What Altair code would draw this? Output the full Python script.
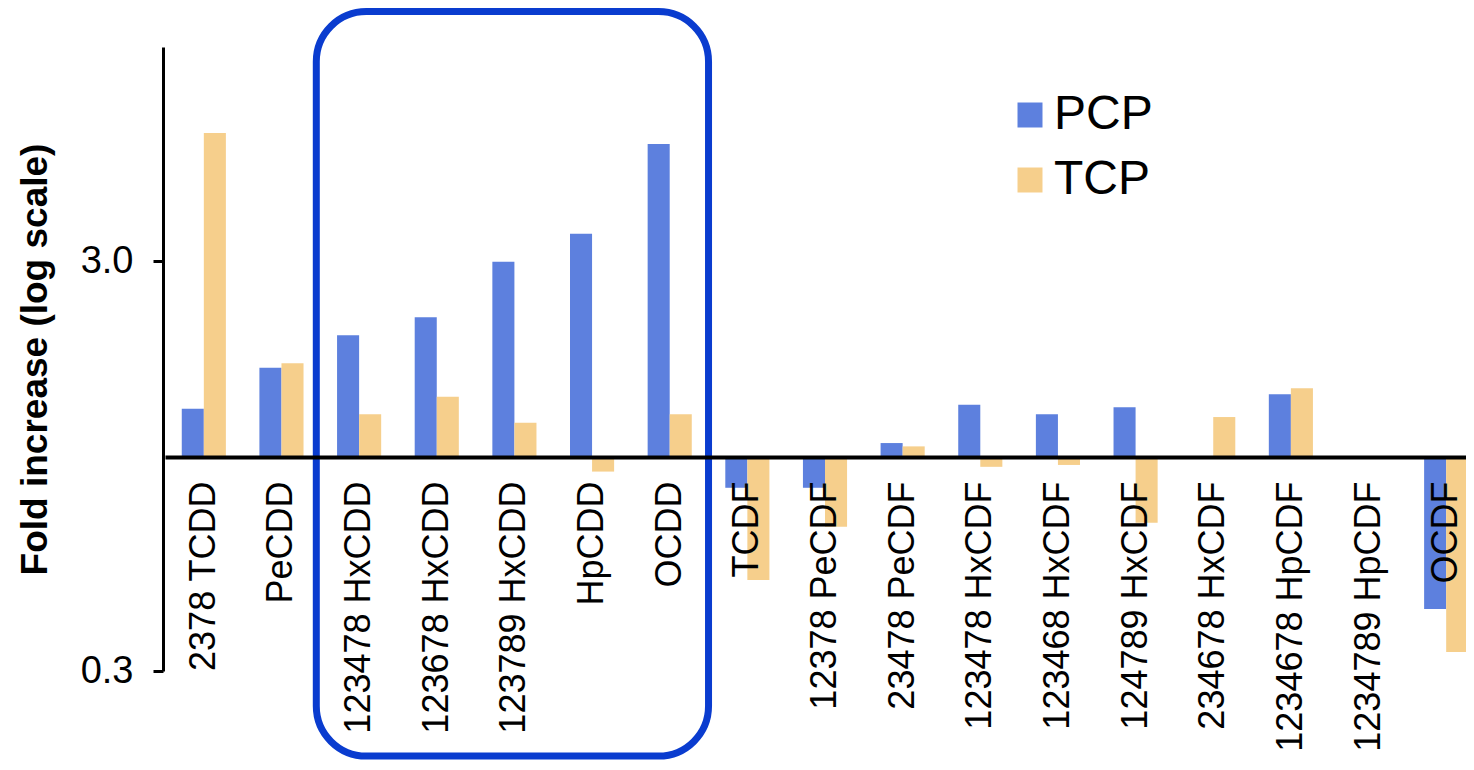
import altair as alt
import pandas as pd

categories = ["2378 TCDD", "PeCDD", "123478 HxCDD", "123678 HxCDD", "123789 HxCDD",
              "HpCDD", "OCDD", "TCDF", "12378 PeCDF", "23478 PeCDF", "123478 HxCDF",
              "123468 HxCDF", "124789 HxCDF", "234678 HxCDF", "1234678 HpCDF",
              "1234789 HpCDF", "OCDF"]
pcp = [1.31, 1.65, 1.98, 2.19, 2.99, 3.50, 5.80, 0.84, 0.84, 1.08, 1.34, 1.27, 1.32,
       1.0, 1.42, 1.0, 0.425]
tcp = [6.17, 1.69, 1.27, 1.40, 1.21, 0.92, 1.27, 0.50, 0.675, 1.06, 0.945, 0.955, 0.69,
       1.25, 1.47, 1.0, 0.334]
series = ["PCP", "TCP"]
colors = ["#5D80DE", "#F6CF8C"]
y_ticks = [0.3, 3.0]
y_domain = [0.3, 10]
baseline_value = 1.0
highlight_start = ["123478 HxCDD"]
highlight_end = ["OCDD"]
highlight_top = [12.2]
highlight_bottom = [0.186]

FONT = "Liberation Sans"

rows = []
for c, p, t in zip(categories, pcp, tcp):
    rows.append({"compound": c, "series": "PCP", "value": p})
    rows.append({"compound": c, "series": "TCP", "value": t})
df = pd.DataFrame(rows)

box_df = pd.DataFrame({"start": highlight_start, "end": highlight_end,
                       "top": highlight_top, "bottom": highlight_bottom})

x_scale = alt.Scale(domain=categories, range=[2, 1322], paddingInner=0, paddingOuter=0)
y_scale = alt.Scale(type="log", domain=y_domain)

bars = alt.Chart(df).mark_bar().encode(
    x=alt.X("compound:N", scale=x_scale,
            axis=alt.Axis(title=None, orient="bottom", offset=-214, labelAngle=-90,
                          labelAlign="right", labelBaseline="middle", labelPadding=24,
                          ticks=False, domainColor="black", domainWidth=4,
                          labelFontSize=36, labelFont=FONT, labelColor="black",
                          labelOverlap=False, labelLimit=0, zindex=1)),
    xOffset=alt.XOffset("series:N", scale=alt.Scale(domain=series, paddingInner=0,
                                                     paddingOuter=0.76)),
    y=alt.Y("value:Q", scale=y_scale,
            axis=alt.Axis(values=y_ticks, format=".1f", title="Fold increase (log scale)",
                          titleFontSize=37, titleFontWeight="bold", titleFont=FONT,
                          titleColor="black", titlePadding=26, labelFontSize=38,
                          labelFont=FONT, labelColor="black", tickSize=10, tickWidth=3,
                          tickColor="black", domainWidth=3, domainColor="black",
                          labelPadding=20, grid=False, zindex=1)),
    y2=alt.datum(baseline_value),
    color=alt.Color("series:N", scale=alt.Scale(domain=series, range=colors),
                    legend=alt.Legend(title=None, orient="none", legendX=843, legendY=44,
                                      symbolType="square", symbolSize=625,
                                      labelFontSize=48, labelFont=FONT, labelColor="black",
                                      rowPadding=17, labelOffset=0, padding=0,
                                      symbolStrokeWidth=0)),
)

box = alt.Chart(box_df).mark_rect(fill=None, stroke="#0A3CCF", strokeWidth=7,
                                  cornerRadius=50, xOffset=-4).encode(
    x=alt.X("start:N", bandPosition=0, scale=x_scale),
    x2=alt.X2("end", bandPosition=1),
    y=alt.Y("top:Q", scale=y_scale),
    y2=alt.Y2("bottom"),
)

chart = alt.layer(bars, box).properties(
    width=1303, height=624,
    autosize=alt.AutoSizeParams(type="none"),
    padding={"left": 155, "top": 39, "right": 0, "bottom": 89},
).configure_view(stroke=None)

chart.save("out.html", embed_options={"renderer": "svg", "actions": False})
